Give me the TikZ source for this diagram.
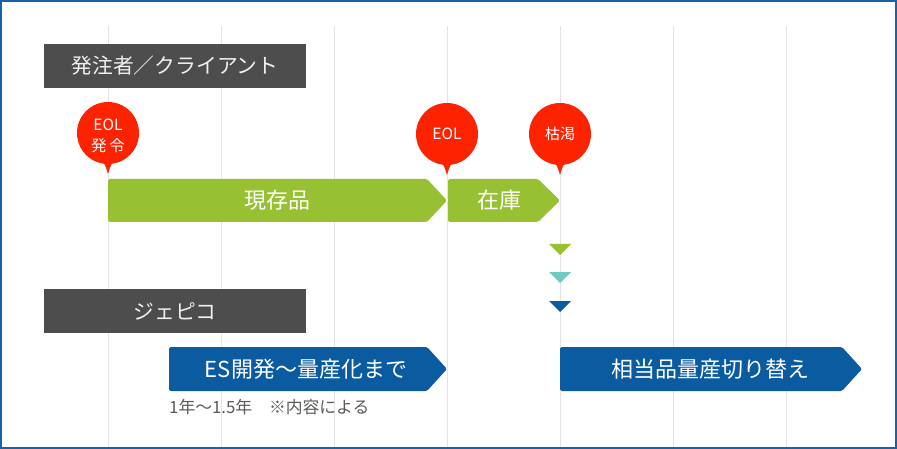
\documentclass[tikz,border=0pt]{standalone}
\usepackage{fontspec}
\setmainfont{Noto Sans CJK JP}
\definecolor{bordblue}{HTML}{1A62A8}
\definecolor{gridgray}{HTML}{E3E3E3}
\definecolor{headgray}{HTML}{4D4D4D}
\definecolor{pinred}{HTML}{FE2300}
\definecolor{leafgreen}{HTML}{97C133}
\definecolor{tealc}{HTML}{72C8C0}
\definecolor{deepblue}{HTML}{0B5BA1}
\definecolor{notegray}{HTML}{5A5A5A}
\tikzset{
  gridline/.style={draw=gridgray, line width=1pt},
  headbox/.style={fill=headgray, draw=none},
  headtext/.style={text=white!94!black, font=\fontsize{20.8}{24}\selectfont, inner sep=0pt},
  bartext/.style={text=white, font=\fontsize{22}{24}\selectfont, inner sep=0pt},
  pinfill/.style={fill=pinred, draw=none},
  pintext/.style={text=white, font=\fontsize{15.5}{21}\selectfont, align=center, inner sep=0pt},
  greenbar/.style={fill=leafgreen, draw=none, rounded corners=1.5pt},
  bluebar/.style={fill=deepblue, draw=none, rounded corners=1.5pt},
  notetext/.style={text=notegray, font=\fontsize{16.8}{18}\selectfont, inner sep=0pt, anchor=west}
}
\begin{document}
\begin{tikzpicture}[x=1pt,y=-1pt]
\useasboundingbox (0,0) rectangle (897,449);
\fill[white] (0,0) rectangle (897,449);
% grid lines
\foreach \gx in {108,221,334,447,560,673,786} {
  \draw[gridline] (\gx,26) -- (\gx,447);
}
% header boxes
\fill[headbox] (44,44) rectangle (306,88);
\node[headtext] (client) at (175,66) {発注者／クライアント};
\fill[headbox] (44,289) rectangle (306,333);
\node[headtext] (gepico) at (175,311) {ジェピコ};
% green bars
\fill[greenbar] (108,179) -- (427,179) -- (447,200.5) -- (427,222) -- (108,222) -- cycle;
\node[bartext] (genzon) at (277.5,200.5) {現存品};
\fill[greenbar] (448,179) -- (538,179) -- (560,200.5) -- (538,222) -- (448,222) -- cycle;
\node[bartext] (zaiko) at (499,200.5) {在庫};
% blue bars
\fill[bluebar] (169,347) -- (427,347) -- (447,369) -- (427,391) -- (169,391) -- cycle;
\node[bartext] (es) at (306,369) {ES開発～量産化まで};
\fill[bluebar] (560,347) -- (842,347) -- (862,369) -- (842,391) -- (560,391) -- cycle;
\node[bartext] (switch) at (710,369) {相当品量産切り替え};
\node[notetext] (note) at (169,407) {1年～1.5年　※内容による};
% triangles
\fill[leafgreen] (549,244) -- (571,244) -- (560,255) -- cycle;
\fill[tealc] (549,272) -- (571,272) -- (560,283) -- cycle;
\fill[deepblue] (549,301) -- (571,301) -- (560,312) -- cycle;
% pins
\foreach \px/\py in {108/133,447/134,560/134} {
  \fill[pinfill] (\px,\py) circle (31);
  \fill[pinfill] (\px-9,\py+25) .. controls (\px-3,\py+31) .. (\px,\py+41) .. controls (\px+3,\py+31) .. (\px+9,\py+25) -- cycle;
}
\node[pintext] (pin1) at (108,136) {EOL\\発\,令};
\node[pintext] (pin2) at (447,134) {EOL};
\node[pintext, font=\fontsize{15}{18}\selectfont] (pin3) at (560,134) {枯渇};
% border
\draw[bordblue, line width=1.8pt] (0.9,0.9) rectangle (896.1,448.1);
\end{tikzpicture}
\end{document}
